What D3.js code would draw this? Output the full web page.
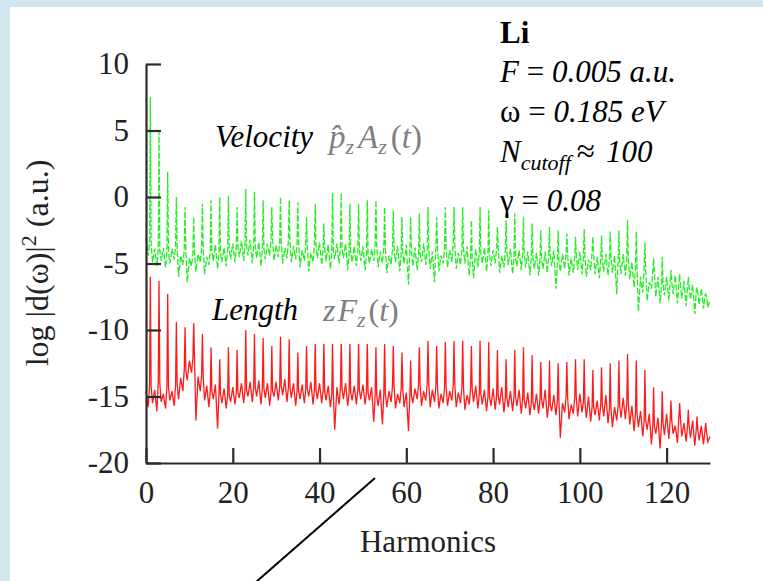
<!DOCTYPE html>
<html>
<head>
<meta charset="utf-8">
<script src="https://cdn.jsdelivr.net/npm/d3@7/dist/d3.min.js"></script>
<style>
  html, body { margin: 0; padding: 0; background: #fff; }
  svg { display: block; }
  text { font-family: "Liberation Serif", "Times New Roman", serif; }
</style>
</head>
<body>
<svg id="chart" width="763" height="581"></svg>
<script>
// Harmonic spectrum of Li, velocity and length gauges (log |d(w)|^2, a.u.)
const xTicks = [0, 20, 40, 60, 80, 100, 120];
const yTicks = [10, 5, 0, -5, -10, -15, -20];

// Velocity gauge: upper background level at every harmonic order 0..130
const velocityFloor = [
  -3.0, -3.5, -3.9, -4.0, -3.8, -4.1, -3.9, -3.7, -4.4, -4.0,
  -4.6, -4.2, -4.3, -3.9, -4.5, -4.0, -3.6, -4.2, -3.8, -3.9,
  -3.5, -3.8, -3.3, -3.6, -3.2, -3.7, -3.4, -3.9, -3.5, -3.2,
  -3.6, -3.4, -3.8, -3.3, -3.7, -3.5, -4.0, -3.7, -4.2, -3.6,
  -3.4, -3.9, -3.6, -4.1, -3.5, -3.8, -3.5, -4.2, -3.7, -3.9,
  -3.7, -4.3, -3.9, -3.6, -4.1, -3.8, -4.4, -3.9, -3.7, -4.2,
  -3.6, -4.0, -3.8, -4.3, -3.5, -3.9, -4.1, -3.7, -4.4, -3.8,
  -4.0, -3.6, -4.2, -3.9, -3.7, -4.5, -3.9, -4.2, -3.8, -4.3,
  -4.0, -3.8, -4.4, -4.1, -3.9, -4.6, -4.0, -4.3, -4.1, -4.5,
  -4.2, -4.7, -4.1, -4.4, -4.0, -4.8, -4.3, -4.2, -4.6, -4.4,
  -4.1, -4.5, -4.7, -4.2, -4.5, -4.8, -4.3, -4.6, -4.4, -4.9,
  -4.3, -4.6, -4.9, -5.4, -6.0, -5.3, -6.4, -5.6, -6.0, -6.6,
  -6.0, -6.4, -5.9, -6.6, -6.3, -6.8, -6.6, -7.1, -6.9, -7.4,
  -7.8
];
// Velocity gauge: dips between harmonic orders (at 0.5, 1.5, ..., 129.5)
const velocityDips = [
  -4.4, -4.9, -5.2, -4.8, -5.3, -5.0, -4.7, -6.0, -5.1, -6.4,
  -5.2, -5.6, -4.9, -5.8, -5.1, -4.8, -5.4, -4.9, -5.2, -4.7,
  -4.9, -4.5, -4.8, -4.4, -5.0, -4.6, -5.2, -4.7, -4.4, -4.8,
  -4.5, -5.0, -4.6, -4.9, -4.7, -5.3, -4.8, -5.6, -4.9, -4.6,
  -5.1, -4.8, -5.4, -4.7, -5.0, -4.6, -5.5, -4.9, -5.2, -4.8,
  -5.5, -5.0, -4.8, -5.3, -5.0, -5.8, -5.1, -4.9, -5.6, -5.0,
  -6.6, -5.2, -5.5, -4.9, -5.1, -5.4, -6.4, -5.6, -5.0, -5.3,
  -4.9, -5.4, -5.1, -5.0, -5.9, -6.1, -5.3, -5.0, -5.6, -5.2,
  -5.0, -5.7, -5.3, -5.1, -5.8, -5.2, -5.5, -5.3, -5.9, -5.4,
  -5.9, -5.4, -5.7, -5.2, -6.9, -5.6, -5.4, -5.9, -5.7, -5.5,
  -5.8, -6.0, -5.5, -5.8, -6.1, -5.6, -5.9, -5.7, -7.3, -5.8,
  -5.9, -6.2, -6.8, -8.6, -7.2, -7.8, -6.9, -7.5, -8.0, -7.4,
  -7.8, -7.3, -8.0, -7.6, -8.2, -7.7, -8.8, -8.1, -8.4, -8.3
];
// Velocity gauge: peak height at the odd harmonics 1, 3, ..., 129
const velocityPeaks = [
  7.5, 4.9, 1.9, 0.0, -0.75, -1.5, -0.5, -0.25, 0.0, 0.1,
  -0.75, 0.6, 0.4, -0.25, -0.75, 0.0, -0.25, -0.4, -1.5, -0.5,
  -2.0, 0.3, 0.3, -0.5, -0.5, -0.25, -0.25, -0.75, -1.0, -1.5,
  -1.5, -1.25, -0.75, -1.5, -0.75, -0.75, -0.75, -1.75, -0.75, -1.0,
  -2.25, -1.75, -1.25, -1.5, -2.0, -2.5, -2.25, -2.5, -2.75, -3.0,
  -2.4, -3.0, -2.9, -2.6, -2.5, -1.75, -2.6, -3.4, -4.6, -4.5,
  -5.5, -5.8, -6.0, -6.8, -7.3
];

// Length gauge: upper background level at every harmonic order 0..130
const lengthFloor = [
  -14.6, -14.2, -14.5, -14.0, -14.8, -14.3, -14.6, -14.1, -13.6, -13.0,
  -12.3, -12.1, -13.5, -13.4, -14.2, -14.6, -14.1, -14.8, -14.4, -14.9,
  -14.3, -14.7, -14.0, -14.5, -13.9, -14.3, -13.8, -14.4, -14.0, -14.6,
  -13.9, -14.2, -13.7, -14.3, -14.0, -14.6, -14.1, -14.4, -13.9, -14.5,
  -14.0, -14.6, -14.2, -14.8, -14.3, -14.4, -14.0, -14.7, -14.2, -14.5,
  -14.1, -14.7, -14.3, -14.9, -14.5, -14.8, -14.6, -14.2, -14.8, -14.4,
  -14.7, -14.9, -14.4, -14.1, -14.6, -14.0, -14.5, -14.2, -14.8, -14.3,
  -14.6, -14.1, -14.7, -14.3, -14.9, -14.4, -14.2, -14.8, -14.5, -15.0,
  -14.4, -14.9, -14.3, -15.1, -14.6, -15.0, -14.5, -15.2, -14.7, -15.4,
  -14.8, -15.2, -14.5, -15.6, -14.9, -15.3, -15.5, -15.0, -15.6, -15.1,
  -14.8, -15.4, -15.0, -15.8, -15.3, -15.6, -14.9, -15.9, -15.8, -15.7,
  -15.1, -15.5, -15.7, -16.3, -16.1, -16.8, -16.3, -17.2, -16.6, -17.0,
  -16.3, -16.8, -17.2, -16.6, -17.0, -17.2, -16.8, -17.5, -17.2, -17.6,
  -18.0
];
// Length gauge: dips between harmonic orders (at 0.5, 1.5, ..., 129.5)
const lengthDips = [
  -15.8, -15.5, -16.1, -15.4, -15.9, -15.3, -15.7, -15.2, -14.6, -13.8,
  -13.2, -16.8, -14.6, -15.3, -15.8, -15.2, -17.4, -15.5, -15.9, -15.4,
  -15.6, -15.1, -15.5, -15.0, -15.4, -15.0, -15.6, -15.1, -15.7, -15.0,
  -15.3, -14.9, -15.4, -15.1, -15.7, -15.2, -15.5, -15.0, -15.6, -15.2,
  -15.5, -15.3, -15.8, -17.5, -15.6, -15.2, -15.7, -15.3, -15.6, -15.2,
  -15.6, -15.3, -16.9, -15.7, -17.1, -15.8, -15.4, -15.9, -15.5, -15.8,
  -17.6, -15.5, -15.2, -15.7, -15.3, -15.8, -15.4, -15.9, -15.5, -15.7,
  -15.3, -15.8, -15.5, -16.0, -15.6, -15.4, -15.9, -15.6, -16.1, -15.7,
  -16.0, -15.6, -16.2, -15.8, -16.1, -15.7, -16.3, -15.9, -16.4, -16.0,
  -16.3, -15.9, -16.6, -16.1, -16.4, -18.1, -16.2, -16.7, -16.3, -16.5,
  -16.2, -16.6, -16.9, -16.4, -16.8, -16.5, -17.0, -17.3, -16.8, -16.6,
  -16.7, -17.1, -17.6, -17.3, -18.0, -17.5, -18.6, -17.8, -18.9, -17.9,
  -18.2, -17.8, -18.5, -18.0, -18.4, -18.1, -18.7, -18.3, -18.6, -18.4
];
// Length gauge: peak height at the odd harmonics 1, 3, ..., 129
const lengthPeaks = [
  -6.0, -6.3, -7.3, -9.4, -9.8, -9.5, -10.3, -11.3, -12.2, -11.3,
  -11.5, -10.0, -10.3, -10.6, -11.2, -10.5, -10.7, -11.7, -11.2, -10.9,
  -10.8, -11.0, -10.6, -10.9, -10.7, -10.8, -11.3, -10.9, -11.2, -11.7,
  -12.3, -11.3, -10.8, -11.2, -10.9, -10.8, -10.8, -11.2, -10.8, -10.9,
  -11.5, -12.2, -11.5, -11.3, -11.9, -12.4, -12.3, -12.5, -12.4, -12.2,
  -12.2, -13.0, -12.8, -12.5, -12.3, -11.8, -12.3, -13.0, -14.3, -14.6,
  -15.3, -15.5, -16.0, -16.5, -17.0
];

const svg = d3.select("#chart");
const W = 763, H = 581;

// page frame
svg.append("rect").attr("width", W).attr("height", H).attr("fill", "#fff");
svg.append("rect").attr("x", 0).attr("y", 0).attr("width", W).attr("height", 7).attr("fill", "#d3e6ef");
svg.append("rect").attr("x", 0).attr("y", 0).attr("width", 10).attr("height", H).attr("fill", "#d3e6ef");

const x = d3.scaleLinear().domain([0, 130]).range([146, 710]);
const y = d3.scaleLinear().domain([-20, 10]).range([463, 64]);

// background zig-zag with a narrow spike at each odd harmonic
function trace(floor, dips, peaks) {
  const pts = [];
  floor.forEach((f, h) => {
    if (h % 2 === 1) {
      const p = peaks[(h - 1) / 2];
      pts.push([h - 0.18, f], [h, p], [h + 0.18, f]);
    } else {
      pts.push([h, f]);
    }
    if (h < dips.length) pts.push([h + 0.5, dips[h]]);
  });
  return pts;
}

const line = d3.line().x(d => x(d[0])).y(d => y(d[1]));

svg.append("path")
  .datum(trace(velocityFloor, velocityDips, velocityPeaks))
  .attr("d", line)
  .attr("fill", "none")
  .attr("stroke", "#22ee22")
  .attr("stroke-width", 1.3)
  .attr("stroke-dasharray", "6,2");

svg.append("path")
  .datum(trace(lengthFloor, lengthDips, lengthPeaks))
  .attr("d", line)
  .attr("fill", "none")
  .attr("stroke", "#ff1a1a")
  .attr("stroke-width", 1.3);

// axes
const axisColor = "#2b2b2b";
const gx = svg.append("g")
  .attr("transform", `translate(0,${y(-20)})`)
  .call(d3.axisBottom(x).tickValues(xTicks).tickFormat(d => String(d))
    .tickSizeInner(-15).tickSizeOuter(0).tickPadding(18));
const gy = svg.append("g")
  .attr("transform", `translate(${x(0)},0)`)
  .call(d3.axisLeft(y).tickValues(yTicks).tickFormat(d => String(d))
    .tickSizeInner(-15).tickSizeOuter(0).tickPadding(17));

[gx, gy].forEach(g => {
  g.select(".domain").attr("stroke", axisColor).attr("stroke-width", 2.2);
  g.selectAll(".tick line").attr("stroke", axisColor).attr("stroke-width", 2.2);
  g.selectAll(".tick text")
    .attr("fill", "#222")
    .style("font-family", "'Liberation Serif', 'Times New Roman', serif")
    .style("font-size", "31px");
});

// axis titles
svg.append("text")
  .attr("x", 428).attr("y", 552)
  .attr("text-anchor", "middle")
  .attr("fill", "#222")
  .style("font-size", "31px")
  .text("Harmonics");

const yl = svg.append("text")
  .attr("transform", "translate(48,263) rotate(-90)")
  .attr("text-anchor", "middle")
  .attr("fill", "#222")
  .style("font-size", "32px");
yl.append("tspan").text("log |d(ω)|");
yl.append("tspan").attr("dy", -12).style("font-size", "22px").text("2");
yl.append("tspan").attr("dy", 12).text("  (a.u.)");

// parameter block
const info = svg.append("g").attr("fill", "#000").style("font-size", "31px");
info.append("text").attr("x", 500).attr("y", 43).style("font-weight", "bold").text("Li");
const fl = info.append("text").attr("x", 500).attr("y", 82).style("font-style", "italic");
fl.append("tspan").text("F ");
fl.append("tspan").style("font-style", "normal").text("=");
fl.append("tspan").text(" 0.005 a.u.");
const om = info.append("text").attr("x", 500).attr("y", 122);
om.append("tspan").text("ω = ");
om.append("tspan").style("font-style", "italic").text("0.185 eV");
const nc = info.append("text").attr("x", 500).attr("y", 162).style("font-style", "italic");
nc.append("tspan").text("N");
nc.append("tspan").attr("dy", 8).style("font-size", "22px").text("cutoff");
nc.append("tspan").attr("dy", -8).attr("dx", 6).style("font-style", "normal").style("font-size", "33px").text("≈");
nc.append("tspan").attr("dx", 11).text("100");
const ga = info.append("text").attr("x", 500).attr("y", 211);
ga.append("tspan").text("γ = ");
ga.append("tspan").style("font-style", "italic").text("0.08");

// gauge labels
svg.append("text").attr("x", 215).attr("y", 147)
  .style("font-style", "italic").style("font-size", "31px").attr("fill", "#000")
  .text("Velocity");
const vm = svg.append("text").attr("x", 329).attr("y", 148)
  .style("font-style", "italic").style("font-size", "33px").attr("fill", "#808080");
vm.append("tspan").text("p\u0302");
vm.append("tspan").attr("dy", 6).style("font-size", "22px").text("z");
vm.append("tspan").attr("dy", -6).attr("dx", 4).text("A");
vm.append("tspan").attr("dy", 6).style("font-size", "22px").text("z");
vm.append("tspan").attr("dy", -6).attr("dx", 4).style("font-style", "normal").text("(");
vm.append("tspan").text("t");
vm.append("tspan").style("font-style", "normal").text(")");

// backdrop behind the length-gauge formula
svg.append("rect").attr("x", 313).attr("y", 273).attr("width", 90).attr("height", 71).attr("fill", "#fff");

svg.append("text").attr("x", 212).attr("y", 320)
  .style("font-style", "italic").style("font-size", "31px").attr("fill", "#000")
  .text("Length");
const lm = svg.append("text").attr("x", 323).attr("y", 321)
  .style("font-style", "italic").style("font-size", "32px").attr("fill", "#808080");
lm.append("tspan").text("z");
lm.append("tspan").attr("dx", 2).text("F");
lm.append("tspan").attr("dy", 6).style("font-size", "22px").text("z");
lm.append("tspan").attr("dy", -6).attr("dx", 3).style("font-style", "normal").text("(");
lm.append("tspan").text("t");
lm.append("tspan").style("font-style", "normal").text(")");

// pointer line running off the bottom edge
svg.append("line")
  .attr("x1", 375).attr("y1", 478).attr("x2", 256).attr("y2", 582)
  .attr("stroke", "#000").attr("stroke-width", 2);
</script>
</body>
</html>
